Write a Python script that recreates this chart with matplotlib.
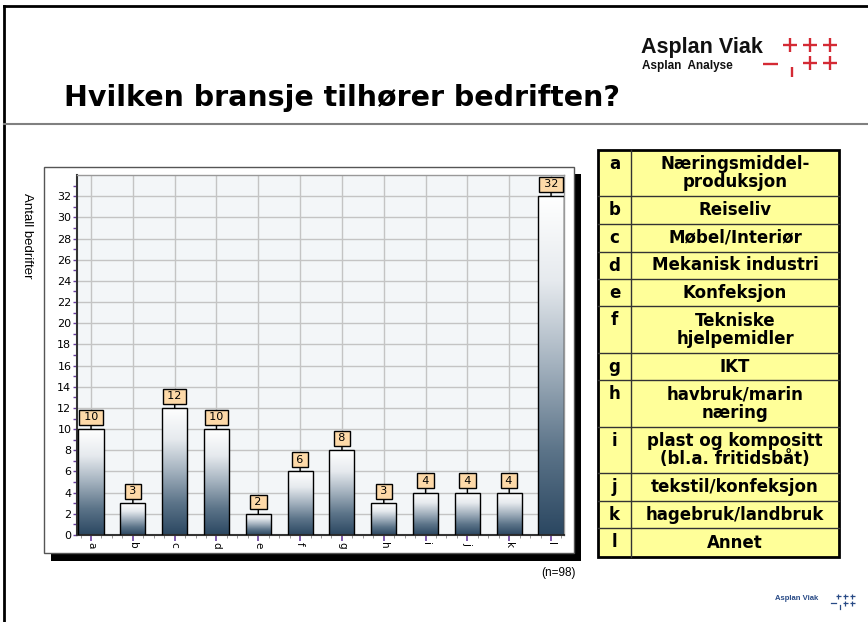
import matplotlib
matplotlib.use('agg')
import matplotlib.pyplot as plt
import numpy as np
from matplotlib.colors import LinearSegmentedColormap
from matplotlib.patches import Rectangle

# data
categories = ['a', 'b', 'c', 'd', 'e', 'f', 'g', 'h', 'i', 'j', 'k', 'l']
counts = [10, 3, 12, 10, 2, 6, 8, 3, 4, 4, 4, 32]
descriptions = ['Næringsmiddel-\nproduksjon', 'Reiseliv', 'Møbel/Interiør',
                'Mekanisk industri', 'Konfeksjon', 'Tekniske\nhjelpemidler', 'IKT',
                'havbruk/marin\nnæring', 'plast og kompositt\n(bl.a. fritidsbåt)',
                'tekstil/konfeksjon', 'hagebruk/landbruk', 'Annet']
title = 'Hvilken bransje tilhører bedriften?'
n_note = '(n=98)'
y_label = 'Antall bedrifter'

W, H = 868, 622
fig = plt.figure(figsize=(W / 100, H / 100), dpi=100)

# pixel-space overlay for the slide decorations
bg = fig.add_axes([0, 0, 1, 1])
bg.set_xlim(0, W)
bg.set_ylim(H, 0)
bg.axis('off')

bg.plot([4, W], [6, 6], color='black', lw=2)
bg.plot([4, 4], [6, H], color='black', lw=2)
bg.plot([4, W], [124, 124], color='#808080', lw=1.5)

bg.text(64, 98, title, fontsize=20.5, fontweight='bold', family='DejaVu Sans',
        va='center', ha='left')

# logo
bg.text(641, 47, 'Asplan Viak', fontsize=15.5, fontweight='bold',
        family='Liberation Sans', va='center', ha='left', color='#111111')
bg.text(642, 65.5, 'Asplan  Analyse', fontsize=8.5, fontweight='bold',
        family='Liberation Sans', va='center', ha='left', color='#111111')
red = '#d42a34'


def plus(cx, cy, r, color, lw):
    bg.plot([cx - r, cx + r], [cy, cy], color=color, lw=lw, solid_capstyle='butt')
    bg.plot([cx, cx], [cy - r, cy + r], color=color, lw=lw, solid_capstyle='butt')


for cx in (790, 810, 830):
    plus(cx, 45, 7, red, 1.7)
for cx in (810, 830):
    plus(cx, 63, 7, red, 1.7)
bg.plot([763, 778], [64, 64], color=red, lw=1.7, solid_capstyle='butt')
bg.plot([792, 792], [67, 77], color=red, lw=1.7, solid_capstyle='butt')

# small bottom logo
blue = '#284a86'
bg.text(775, 599, 'Asplan Viak', fontsize=5.5, fontweight='bold',
        family='Liberation Sans', va='center', ha='left', color=blue)
for cx in (838, 845, 852):
    plus(cx, 596, 2.5, blue, 0.9)
for cx in (845, 852):
    plus(cx, 603, 2.5, blue, 0.9)
bg.plot([831, 836], [603, 603], color=blue, lw=0.9)
bg.plot([840, 840], [605, 609], color=blue, lw=0.9)

# chart frame with shadow
bg.add_patch(Rectangle((51, 174), 530, 387, facecolor='black', edgecolor='none'))
bg.add_patch(Rectangle((44, 167), 530, 386, facecolor='white', edgecolor='#555555', lw=1))
bg.text(27, 236, y_label, rotation=270, fontsize=9.5, family='Liberation Sans',
        va='center', ha='center')
bg.text(576, 573, n_note, fontsize=8.5, family='Liberation Sans',
        va='center', ha='right')

# legend table
row_edges = [150, 196, 224, 252, 279, 306, 353, 380, 427, 473, 501, 528, 557]
tx0, tx1, tdiv = 598, 839, 631
bg.add_patch(Rectangle((tx0, row_edges[0]), tx1 - tx0, row_edges[-1] - row_edges[0],
                       facecolor='#ffff99', edgecolor='none'))
for y in row_edges[1:-1]:
    bg.plot([tx0, tx1], [y, y], color='#333333', lw=1)
bg.plot([tdiv, tdiv], [row_edges[0], row_edges[-1]], color='#333333', lw=1)
bg.add_patch(Rectangle((tx0, row_edges[0]), tx1 - tx0, row_edges[-1] - row_edges[0],
                       facecolor='none', edgecolor='black', lw=2))
for i, (cat, desc) in enumerate(zip(categories, descriptions)):
    top, bot = row_edges[i], row_edges[i + 1]
    bg.text((tx0 + tdiv) / 2, top + 14, cat, fontsize=12, fontweight='bold',
            family='DejaVu Sans', ha='center', va='center')
    bg.text((tdiv + tx1) / 2, (top + bot) / 2, desc, fontsize=12, fontweight='bold',
            family='DejaVu Sans', ha='center', va='center', linespacing=1.0)

# bar chart
ax = fig.add_axes([77 / W, (H - 535) / H, (564 - 77) / W, (535 - 175) / H])
ax.set_facecolor('#f3f6f8')
x = np.arange(len(categories))
bars = ax.bar(x, counts, width=0.6, facecolor='none', edgecolor='black',
              lw=1, zorder=3)

cmap = LinearSegmentedColormap.from_list(
    'bar', ['#2b4761', '#5c7489', '#a3b1be', '#e6eaee', '#ffffff'])
grad = np.linspace(0, 1, 256).reshape(-1, 1)
for b in bars:
    x0, w, h = b.get_x(), b.get_width(), b.get_height()
    im = ax.imshow(grad, extent=[x0, x0 + w, 0, h], origin='lower', cmap=cmap,
                   aspect='auto', zorder=2)
    im.set_clip_path(b)

for xi, v in zip(x, counts):
    ax.annotate('\u2009' + str(v) + '\u2009', xy=(xi, v), xytext=(0, 8.5),
                textcoords='offset points', ha='center', va='center',
                fontsize=8, family='DejaVu Sans',
                bbox=dict(boxstyle='square,pad=0.22', fc='#fdd9a8', ec='black', lw=1),
                arrowprops=dict(arrowstyle='-', color='black', lw=1,
                                shrinkA=0, shrinkB=0),
                zorder=4)

ax.set_xlim(-0.335, 11.31)
ax.set_ylim(0, 34)
ax.set_yticks(np.arange(0, 33, 2))
ax.set_yticks(np.arange(1, 34, 2), minor=True)
ax.set_xticks(x)
ax.set_xticks(np.arange(-0.25, 11.3, 0.25), minor=True)
ax.set_xticklabels(categories, rotation=270)
ax.grid(True, which='major', color='#c4c4c4', lw=1, zorder=0)
ax.set_axisbelow(True)

purple = '#6b3fa0'
ax.tick_params(axis='y', which='both', direction='out', color=purple, length=3,
               width=1, labelsize=8, pad=1)
ax.tick_params(axis='x', which='major', direction='out', color=purple, length=4,
               width=1.2, labelsize=7.5, pad=1)
ax.tick_params(axis='x', which='minor', direction='out', color='#888888', length=2)
for lab in ax.get_xticklabels() + ax.get_yticklabels():
    lab.set_family('DejaVu Sans')
for s in ['left', 'bottom']:
    ax.spines[s].set_color('#333333')
    ax.spines[s].set_linewidth(1.5)
for s in ['top', 'right']:
    ax.spines[s].set_color('#999999')
    ax.spines[s].set_linewidth(1)

fig.savefig('out.png', dpi=100)
